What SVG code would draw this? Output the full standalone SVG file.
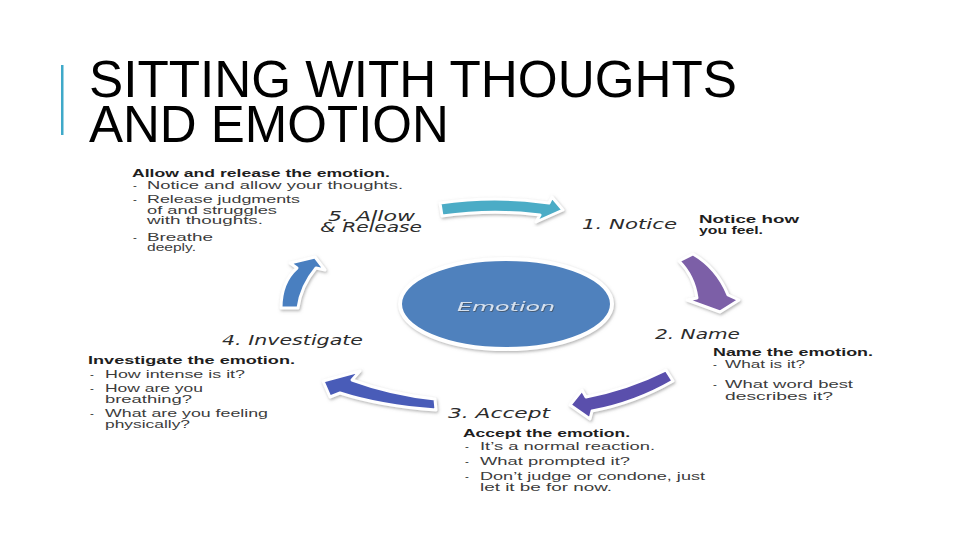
<svg xmlns="http://www.w3.org/2000/svg" width="960" height="540" viewBox="0 0 960 540">
<defs>
<filter id="sh" x="-20%" y="-20%" width="140%" height="140%">
<feDropShadow dx="1" dy="1.5" stdDeviation="1.5" flood-color="#808080" flood-opacity="0.6"/>
</filter>
<filter id="tsh" x="-10%" y="-30%" width="120%" height="160%">
<feDropShadow dx="0.8" dy="0.8" stdDeviation="0.6" flood-color="#404040" flood-opacity="0.7"/>
</filter>
<style>
.title{font-family:"Liberation Sans",Arial,sans-serif;font-size:51px;fill:#000}
.hd{font-family:"Liberation Sans",Arial,sans-serif;font-size:11.5px;font-weight:700;fill:#1e1e1e}
.bl{font-family:"Liberation Sans",Arial,sans-serif;font-size:11.5px;fill:#3c3c3c}
.lb{font-family:"DejaVu Sans",sans-serif;font-size:13.5px;font-style:italic;fill:#2c2c2c}
.arr{stroke:#ffffff;stroke-width:3;stroke-linejoin:round;filter:url(#sh)}
</style>
</defs>
<rect width="960" height="540" fill="#ffffff"/>
<g id="title">
<rect x="61" y="65" width="2.5" height="70" fill="#3fa9c9"/>
<text class="title" x="89" y="97" textLength="648" lengthAdjust="spacingAndGlyphs">SITTING WITH THOUGHTS</text>
<text class="title" x="89" y="142">AND EMOTION</text>
</g>
<g id="connectors">
<path class="arr" fill="#4bacc6" d="M440,203 Q495,195 549,203 L552,197 L563,210 L536,222 L540,215 Q492,209 442,216 Z"/>
<path class="arr" fill="#7b5ea7" d="M679,261 L693,254 Q717,268 728,295 L739,300 L720,312 L687,300 L697,298 Q694,276 679,261 Z"/>
<path class="arr" fill="#5a4fac" d="M666,370 L673,381 Q635,403 592,411 L590,419 L570,405 L582,390 L586,397 Q628,389 666,370 Z"/>
<path class="arr" fill="#4a5bb8" d="M435,399 L436,410 Q380,406 340,393 L330,397 L323,381 L360,371 L352,380 Q390,394 435,399 Z"/>
<path class="arr" fill="#4a7fc0" d="M281,308 Q281,282 297,268 L290,263 L315,257 L325,270 L316,268 Q301,286 298,308 Z"/>
</g>
<g id="emotion">
<ellipse cx="506" cy="304" rx="106" ry="45" fill="#4f81bd" stroke="#ffffff" stroke-width="4" filter="url(#sh)"/>
<text x="457" y="311" font-family="DejaVu Sans,sans-serif" font-size="13" font-style="italic" fill="#d6e2f0" filter="url(#tsh)" textLength="98" lengthAdjust="spacingAndGlyphs">Emotion</text>
</g>
<g id="step1-notice">
<text class="lb" x="582" y="229" textLength="95" lengthAdjust="spacingAndGlyphs">1. Notice</text>
<text class="hd" x="699" y="223" textLength="100" lengthAdjust="spacingAndGlyphs">Notice how</text>
<text class="hd" x="699" y="234" textLength="64" lengthAdjust="spacingAndGlyphs">you feel.</text>
</g>
<g id="step2-name">
<text class="lb" x="655" y="339" textLength="85" lengthAdjust="spacingAndGlyphs">2. Name</text>
<text class="hd" x="713" y="356" textLength="160" lengthAdjust="spacingAndGlyphs">Name the emotion.</text>
<text class="bl" x="713" y="368">-</text>
<text class="bl" x="725" y="368" textLength="80" lengthAdjust="spacingAndGlyphs">What is it?</text>
<text class="bl" x="713" y="388">-</text>
<text class="bl" x="725" y="388" textLength="128" lengthAdjust="spacingAndGlyphs">What word best</text>
<text class="bl" x="725" y="400" textLength="108" lengthAdjust="spacingAndGlyphs">describes it?</text>
</g>
<g id="step3-accept">
<text class="lb" x="448" y="418" textLength="102" lengthAdjust="spacingAndGlyphs">3. Accept</text>
<text class="hd" x="463" y="437" textLength="167" lengthAdjust="spacingAndGlyphs">Accept the emotion.</text>
<text class="bl" x="465" y="450">-</text>
<text class="bl" x="480" y="450" textLength="175" lengthAdjust="spacingAndGlyphs">It’s a normal reaction.</text>
<text class="bl" x="465" y="465">-</text>
<text class="bl" x="480" y="465" textLength="150" lengthAdjust="spacingAndGlyphs">What prompted it?</text>
<text class="bl" x="465" y="480">-</text>
<text class="bl" x="480" y="480" textLength="225" lengthAdjust="spacingAndGlyphs">Don’t judge or condone, just</text>
<text class="bl" x="480" y="491" textLength="132" lengthAdjust="spacingAndGlyphs">let it be for now.</text>
</g>
<g id="step4-investigate">
<text class="lb" x="222" y="345" textLength="141" lengthAdjust="spacingAndGlyphs">4. Investigate</text>
<text class="hd" x="88" y="364" textLength="207" lengthAdjust="spacingAndGlyphs">Investigate the emotion.</text>
<text class="bl" x="90" y="378">-</text>
<text class="bl" x="105" y="378" textLength="140" lengthAdjust="spacingAndGlyphs">How intense is it?</text>
<text class="bl" x="90" y="392">-</text>
<text class="bl" x="105" y="392" textLength="98" lengthAdjust="spacingAndGlyphs">How are you</text>
<text class="bl" x="105" y="403" textLength="87" lengthAdjust="spacingAndGlyphs">breathing?</text>
<text class="bl" x="90" y="417">-</text>
<text class="bl" x="105" y="417" textLength="163" lengthAdjust="spacingAndGlyphs">What are you feeling</text>
<text class="bl" x="105" y="428" textLength="85" lengthAdjust="spacingAndGlyphs">physically?</text>
</g>
<g id="step5-allow">
<text class="lb" x="328" y="221" textLength="87" lengthAdjust="spacingAndGlyphs">5. Allow</text>
<text class="lb" x="320" y="232" textLength="102" lengthAdjust="spacingAndGlyphs">&amp; Release</text>
<text class="hd" x="132" y="177" textLength="258" lengthAdjust="spacingAndGlyphs">Allow and release the emotion.</text>
<text class="bl" x="133" y="189">-</text>
<text class="bl" x="147" y="189" textLength="256" lengthAdjust="spacingAndGlyphs">Notice and allow your thoughts.</text>
<text class="bl" x="133" y="203">-</text>
<text class="bl" x="147" y="203" textLength="153" lengthAdjust="spacingAndGlyphs">Release judgments</text>
<text class="bl" x="147" y="213.5" textLength="130" lengthAdjust="spacingAndGlyphs">of and struggles</text>
<text class="bl" x="147" y="224" textLength="116" lengthAdjust="spacingAndGlyphs">with thoughts.</text>
<text class="bl" x="133" y="241">-</text>
<text class="bl" x="147" y="241" textLength="66" lengthAdjust="spacingAndGlyphs">Breathe</text>
<text class="bl" x="147" y="251" textLength="49" lengthAdjust="spacingAndGlyphs">deeply.</text>
</g>
</svg>
